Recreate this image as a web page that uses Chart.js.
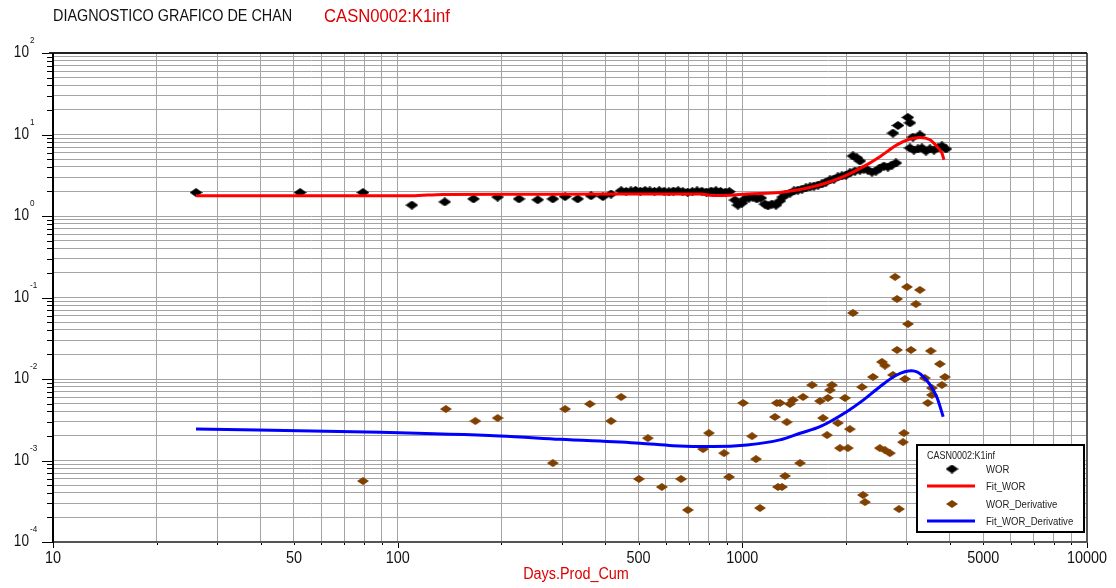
<!DOCTYPE html>
<html>
<head>
<meta charset="utf-8">
<script src="https://cdn.jsdelivr.net/npm/chart.js@4.4.0/dist/chart.umd.min.js"></script>
<style>
  html, body { margin: 0; padding: 0; background: #fff; }
</style>
</head>
<body>
<canvas id="chan" width="1116" height="588"></canvas>
<script>
// WOR (black diamonds)
const worDays = [26, 52.1, 79.3, 110, 137, 166, 195, 225, 255, 282, 306, 333, 364, 394, 416,
  445, 460, 475, 490, 506, 522, 539, 556, 574, 593, 612, 631, 651, 672, 694, 716, 739, 763, 787, 812, 838, 865, 893, 917,
  952, 971, 997, 1017, 1045, 1073, 1102, 1132, 1163, 1187, 1218, 1252, 1285, 1311, 1338, 1374, 1412, 1450, 1490, 1530,
  1571, 1614, 1658, 1702, 1748, 1796, 1844, 1894, 1945, 1998, 2052, 2094, 2150, 2194, 2122, 2194, 2253, 2314, 2377,
  2441, 2507, 2575, 2645, 2716, 2790, 2735, 2828, 3022, 3064, 3126, 3275,
  3064, 3146, 3231, 3319, 3410, 3503, 3597, 3695, 3793, 3896];
const worRatio = [1.94, 1.94, 1.94, 1.36, 1.49, 1.62, 1.71, 1.62, 1.58, 1.62, 1.73, 1.62, 1.77, 1.73, 1.86,
  2.04, 2.0, 2.03, 2.06, 2.01, 2.05, 2.03, 2.0, 2.04, 2.01, 1.98, 2.02, 2.04, 1.99, 1.96, 1.99, 2.03, 2.01, 1.97, 2.02, 2.04, 2.0, 1.96, 1.99,
  1.57, 1.36, 1.44, 1.62, 1.66, 1.71, 1.62, 1.66, 1.40, 1.33, 1.40, 1.36, 1.53, 1.71, 1.86, 1.91, 2.03, 2.08, 2.14, 2.21,
  2.27, 2.33, 2.40, 2.47, 2.61, 2.77, 2.84, 3.01, 3.10, 3.18, 3.37, 5.45, 5.15, 4.73, 3.56, 3.66, 3.77, 3.66, 3.46,
  3.56, 3.88, 4.10, 3.99, 4.22, 4.47, 10.4, 12.9, 16.2, 13.9, 9.3, 9.86,
  6.83, 6.45, 6.64, 6.83, 6.27, 6.64, 6.45, 6.83, 7.23, 6.64];

// Fit_WOR (red line)
const fitWorDays = [26, 110, 135, 198, 442, 754, 822, 920, 1031, 1285, 1440, 1603, 1796, 2010, 2239, 2507, 2809, 3064, 3275, 3503, 3670, 3794, 3845];
const fitWorRatio = [1.77, 1.77, 1.84, 1.85, 1.86, 1.86, 1.78, 1.80, 1.86, 1.94, 2.08, 2.29, 2.63, 3.18, 4.0, 5.35, 7.45, 8.8, 9.2, 8.6, 7.1, 5.9, 4.9];

// WOR_Derivative (brown diamonds)
const derivDays = [79.3, 138, 168, 195, 282, 306, 361, 416, 445, 532, 501, 584, 664, 695, 769, 800, 885, 915, 1005, 1067, 1096, 1125, 1259, 1243, 1269,
  2773, 3004, 3275, 2811, 3189, 2094, 3024, 2811, 3085, 3522, 2541, 2593, 3742, 2393, 2735, 2964, 3385, 3872, 2224, 1593, 1820, 1795,
  3794, 3548, 3548, 3452, 1500, 1402, 1286, 1374, 1680, 1771, 1985, 1714, 1346, 1893, 2051, 1761, 2944, 2924, 1919, 2024, 2506, 2593,
  2680, 1470, 1330, 1303, 2239, 2269, 2847];
const derivValues = [0.00056, 0.00428, 0.00305, 0.00332, 0.00093, 0.00428, 0.00494, 0.00305, 0.00602, 0.00188, 0.000593, 0.000473, 0.000593, 0.000247, 0.00138, 0.00217, 0.00123, 0.000628, 0.00508, 0.00199, 0.00104, 0.000261, 0.00508, 0.00342, 0.000473,
  0.179, 0.135, 0.124, 0.096, 0.083, 0.0646, 0.0473, 0.0227, 0.0227, 0.0221, 0.0162, 0.0146, 0.0153, 0.0106, 0.0112, 0.0100, 0.0103, 0.0106, 0.00797, 0.00844, 0.00844, 0.00732,
  0.00844, 0.00775, 0.00637, 0.00508, 0.00602, 0.00553, 0.00508, 0.00494, 0.00537, 0.00585, 0.00585, 0.00332, 0.00296, 0.00288, 0.00243, 0.00205, 0.00217, 0.00168, 0.00142, 0.00142, 0.00142, 0.00134,
  0.00123, 0.00093, 0.000646, 0.000473, 0.000377, 0.000309, 0.000254];

// Fit_WOR_Derivative (blue line)
const fitDerivDays = [26, 89, 198, 296, 505, 629, 822, 1031, 1285, 1470, 1680, 2008, 2243, 2507, 2804, 3100, 3350, 3662, 3826];
const fitDerivValues = [0.00244, 0.00222, 0.0020, 0.00182, 0.00163, 0.00152, 0.00148, 0.00155, 0.00179, 0.00216, 0.0026, 0.00397, 0.0055, 0.00805, 0.0112, 0.0126, 0.0107, 0.00607, 0.00344];

// axis labels
const xTickLabels = [10, 50, 100, 500, 1000, 5000, 10000];
const yTickExps = [2, 1, 0, -1, -2, -3, -4];

const FONT = '"Liberation Sans", Arial, sans-serif';

function pairs(xs, ys) {
  return xs.map((d, i) => ({ x: d, y: ys[i] }));
}

// flattened diamond marker
function diamond(color, w, h) {
  const c = document.createElement('canvas');
  c.width = w; c.height = h;
  const g = c.getContext('2d');
  g.fillStyle = color;
  g.beginPath();
  g.moveTo(w / 2, 0); g.lineTo(w, h / 2); g.lineTo(w / 2, h); g.lineTo(0, h / 2);
  g.closePath();
  g.fill();
  return c;
}
const blackDiamond = diamond('#000000', 13, 9);
const brownDiamond = diamond('#804000', 12, 8);

// 1..9 per decade, no 15/150 extras
function logTicks(min, max) {
  const out = [];
  for (let e = Math.floor(Math.log10(min)); e <= Math.ceil(Math.log10(max)); e++) {
    for (let m = 1; m <= 9; m++) {
      const v = Number((m * Math.pow(10, e)).toPrecision(3));
      if (v >= min && v <= max) out.push({ value: v });
    }
  }
  return out;
}
function isDecade(v) {
  const l = Math.log10(v);
  return Math.abs(l - Math.round(l)) < 1e-6;
}

function narrowText(ctx, txt, x, y, size, color, align, sx) {
  ctx.save();
  ctx.font = size + 'px ' + FONT;
  ctx.fillStyle = color;
  ctx.textBaseline = 'middle';
  ctx.textAlign = align || 'left';
  ctx.translate(x, y);
  ctx.scale(sx || 0.88, 1);
  ctx.fillText(txt, 0, 0);
  ctx.restore();
}

const chanDeco = {
  id: 'chanDeco',
  beforeDatasetsDraw(chart) {
    const { ctx, chartArea: a, scales: { x, y } } = chart;
    ctx.save();
    ctx.lineWidth = 1;
    ctx.strokeStyle = '#000';
    // tick marks
    y.ticks.forEach(t => {
      const py = Math.round(y.getPixelForValue(t.value)) + 0.5;
      const len = isDecade(t.value) ? 11 : 6;
      ctx.beginPath(); ctx.moveTo(a.left - len, py); ctx.lineTo(a.left, py); ctx.stroke();
    });
    x.ticks.forEach(t => {
      const px = Math.round(x.getPixelForValue(t.value)) + 0.5;
      const len = isDecade(t.value) ? 6 : 3;
      ctx.beginPath(); ctx.moveTo(px, a.bottom); ctx.lineTo(px, a.bottom + len); ctx.stroke();
    });
    // frame
    ctx.lineWidth = 2;
    ctx.strokeStyle = '#555';
    ctx.beginPath();
    ctx.moveTo(a.right, a.top); ctx.lineTo(a.right, a.bottom); ctx.lineTo(a.left, a.bottom);
    ctx.stroke();
    ctx.strokeStyle = '#222';
    ctx.beginPath();
    ctx.moveTo(a.left - 4, a.top); ctx.lineTo(a.right, a.top);
    ctx.stroke();
    ctx.strokeStyle = '#000';
    ctx.beginPath();
    ctx.moveTo(a.left, a.top); ctx.lineTo(a.left, a.bottom + 1);
    ctx.stroke();
    ctx.restore();
  },
  afterDraw(chart) {
    const { ctx, chartArea: a, scales: { x, y } } = chart;
    // titles
    narrowText(ctx, 'DIAGNOSTICO GRAFICO DE CHAN', 53, 17, 16, '#111', 'left', 0.9);
    narrowText(ctx, 'CASN0002:K1inf', 324, 17, 18.5, '#dd0000', 'left', 0.9);
    narrowText(ctx, 'Days.Prod_Cum', (a.left + a.right) / 2 + 6, 575, 16, '#dd0000', 'center', 0.9);

    // y labels 10^n
    yTickExps.forEach(e => {
      const py = y.getPixelForValue(Math.pow(10, e));
      narrowText(ctx, '10', 29, py, 16, '#111', 'right', 0.85);
      narrowText(ctx, String(e), 30, py - 12, 9, '#111', 'left', 0.9);
    });
    // x labels
    xTickLabels.forEach(v => {
      const px = x.getPixelForValue(v);
      narrowText(ctx, String(v), px, 559, 16, '#111', 'center', 0.9);
    });

    // legend box
    ctx.save();
    ctx.fillStyle = '#fff';
    ctx.fillRect(916, 444, 169, 89);
    ctx.lineWidth = 2;
    ctx.strokeStyle = '#000';
    ctx.strokeRect(917, 445, 167, 87);
    ctx.restore();
    narrowText(ctx, 'CASN0002:K1inf', 927, 456, 10, '#222', 'left', 0.9);
    const ds = chart.data.datasets;
    const rows = [ds[2], ds[0], ds[3], ds[1]];
    const rowY = [469, 486, 504, 521];
    rows.forEach((d, i) => {
      const ry = rowY[i];
      if (d.showLine) {
        ctx.save();
        ctx.strokeStyle = d.borderColor;
        ctx.lineWidth = 3;
        ctx.beginPath(); ctx.moveTo(927, ry); ctx.lineTo(975, ry); ctx.stroke();
        ctx.restore();
      } else {
        const img = d.pointStyle;
        ctx.drawImage(img, 952 - img.width / 2, ry - img.height / 2);
      }
      narrowText(ctx, d.label, 986, ry + 1, 11, '#222', 'left', 0.87);
    });
  }
};

new Chart(document.getElementById('chan'), {
  type: 'scatter',
  data: {
    datasets: [
      {
        label: 'Fit_WOR',
        data: pairs(fitWorDays, fitWorRatio),
        showLine: true,
        borderColor: '#ff0000',
        borderWidth: 3,
        pointRadius: 0,
        cubicInterpolationMode: 'monotone',
        order: 0
      },
      {
        label: 'Fit_WOR_Derivative',
        data: pairs(fitDerivDays, fitDerivValues),
        showLine: true,
        borderColor: '#0000ff',
        borderWidth: 3,
        pointRadius: 0,
        cubicInterpolationMode: 'monotone',
        order: 0
      },
      {
        label: 'WOR',
        data: pairs(worDays, worRatio),
        pointStyle: blackDiamond,
        pointRadius: 5,
        order: 1
      },
      {
        label: 'WOR_Derivative',
        data: pairs(derivDays, derivValues),
        pointStyle: brownDiamond,
        pointRadius: 5,
        order: 1
      }
    ]
  },
  options: {
    responsive: false,
    animation: false,
    devicePixelRatio: 1,
    layout: { autoPadding: false, padding: { left: 53, right: 29, top: 53, bottom: 46 } },
    plugins: { legend: { display: false }, tooltip: { enabled: false } },
    scales: {
      x: {
        type: 'logarithmic',
        min: 10,
        max: 10000,
        afterBuildTicks: s => { s.ticks = logTicks(s.min, s.max); },
        ticks: { display: false },
        grid: { color: '#a4a4a4', lineWidth: 1, drawTicks: false },
        border: { display: false }
      },
      y: {
        type: 'logarithmic',
        min: 0.0001,
        max: 100,
        afterBuildTicks: s => { s.ticks = logTicks(s.min, s.max); },
        ticks: { display: false },
        grid: { color: '#a4a4a4', lineWidth: 1, drawTicks: false },
        border: { display: false }
      }
    }
  },
  plugins: [chanDeco]
});
</script>
</body>
</html>
